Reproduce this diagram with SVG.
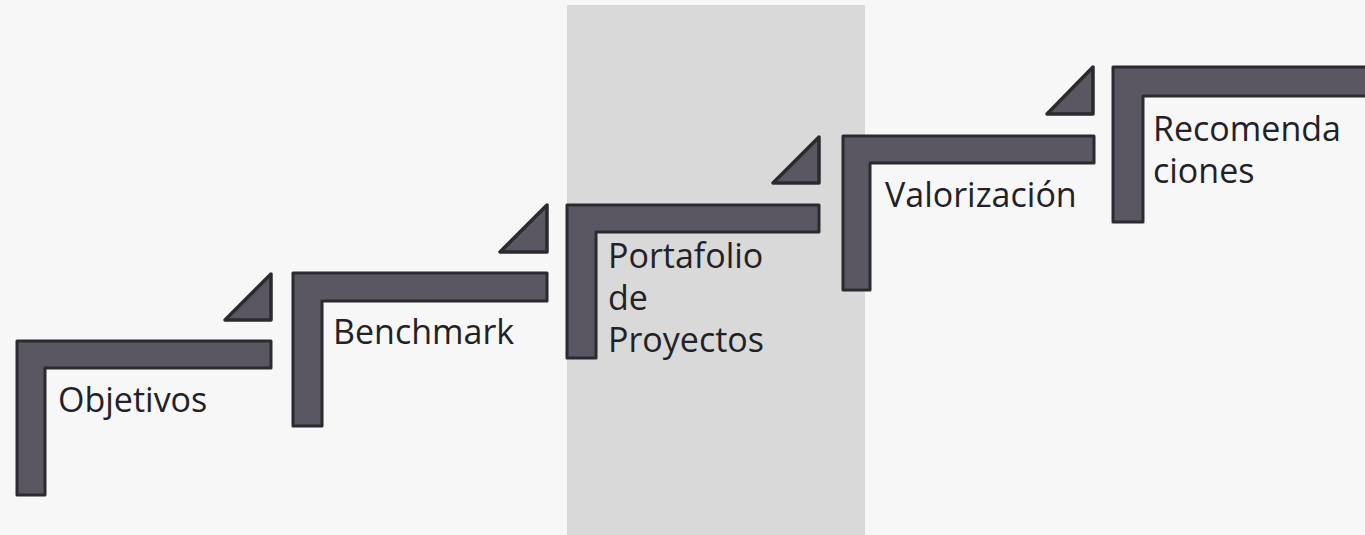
<svg xmlns="http://www.w3.org/2000/svg" width="1365" height="535" viewBox="0 0 1365 535">
  <style>
    .bg { fill: #f7f7f7; }
    .band { fill: #d9d9d9; }
    .step { fill: #5b5762; stroke: #2b2a2f; stroke-width: 3; stroke-linejoin: round; }
    .tri { fill: #5b5762; stroke: #2b2a2f; stroke-width: 3.5; stroke-linejoin: round; }
    .label { font-family: "Open Sans", "Liberation Sans", sans-serif; font-size: 34px; fill: #222226; }
  </style>

  <!-- page -->
  <rect class="bg" x="0" y="0" width="1365" height="535"/>
  <!-- highlighted column behind the third step -->
  <rect class="band" x="567" y="5" width="298" height="530"/>

  <!-- small triangles leading up to each next step -->
  <g id="connectors">
    <path class="tri" d="M271,274 V320 H225 Z"/>
    <path class="tri" d="M547,205 V252 H500 Z"/>
    <path class="tri" d="M819,137 V183 H773 Z"/>
    <path class="tri" d="M1093,67 V114 H1047 Z"/>
  </g>

  <g id="step-objetivos">
    <path class="step" d="M17,341 H271 V368 H45 V495 H17 Z"/>
    <text class="label" x="58" y="412">Objetivos</text>
  </g>

  <g id="step-benchmark">
    <path class="step" d="M293,273 H547 V301 H322 V426 H293 Z"/>
    <text class="label" x="333" y="344">Benchmark</text>
  </g>

  <g id="step-portafolio">
    <path class="step" d="M567,205 H819 V232 H596 V358 H567 Z"/>
    <text class="label" x="608" y="268">Portafolio</text>
    <text class="label" x="608" y="310">de</text>
    <text class="label" x="608" y="352">Proyectos</text>
  </g>

  <g id="step-valorizacion">
    <path class="step" d="M843,136 H1094 V163 H870 V290 H843 Z"/>
    <text class="label" x="885" y="207">Valorización</text>
  </g>

  <g id="step-recomendaciones">
    <path class="step" d="M1113,67 H1370 V96 H1143 V222 H1113 Z"/>
    <text class="label" x="1153" y="141">Recomenda</text>
    <text class="label" x="1153" y="183">ciones</text>
  </g>
</svg>
